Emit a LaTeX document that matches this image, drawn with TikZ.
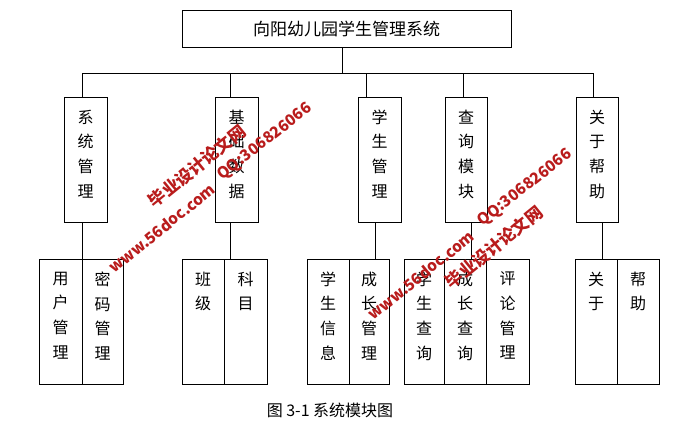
\documentclass[tikz,border=0pt]{standalone}
\usepackage{fontspec}
\setmainfont{Noto Sans CJK SC}
\definecolor{wmred}{RGB}{185,28,28}
\begin{document}
\begin{tikzpicture}[x=1pt,y=-1pt,
  box/.style={draw, line width=1pt, inner sep=0pt, minimum height=125pt},
  vtxt/.style={font=\fontsize{16}{24.7}\selectfont, align=center, inner sep=0pt, anchor=north, yshift=-13pt},
  link/.style={draw, line width=1pt},
  wmzh/.style={text=wmred, font=\bfseries\fontsize{17}{17}\selectfont, inner sep=0pt},
  wmen/.style={text=wmred, font=\bfseries\fontsize{15.5}{15.5}\selectfont, inner sep=0pt}]
\useasboundingbox (0,0) rectangle (697,437);
\fill[white] (0,0) rectangle (697,437);

% root
\node[draw, line width=1pt, minimum width=329pt, minimum height=37pt, inner sep=0pt,
      font=\fontsize{17}{17}\selectfont] (root) at (346.5,28.5) {向阳幼儿园学生管理系统};

% top-level boxes
\node[box, minimum width=43pt] (m1) at (85.5,159.5) {};
\node[box, minimum width=43pt] (m2) at (236.5,159.5) {};
\node[box, minimum width=43pt] (m3) at (379.5,159.5) {};
\node[box, minimum width=42pt] (m4) at (466,159.5) {};
\node[box, minimum width=42pt] (m5) at (597,159.5) {};
\node[vtxt] (m1t) at (m1.north) {系\\统\\管\\理};
\node[vtxt] (m2t) at (m2.north) {基\\础\\数\\据};
\node[vtxt] (m3t) at (m3.north) {学\\生\\管\\理};
\node[vtxt] (m4t) at (m4.north) {查\\询\\模\\块};
\node[vtxt] (m5t) at (m5.north) {关\\于\\帮\\助};

% bus
\coordinate (j0) at (342,73);
\coordinate (j1) at (82,73);
\coordinate (j2) at (230,73);
\coordinate (j3) at (366,73);
\coordinate (j4) at (463,73);
\coordinate (j5) at (593,73);
\draw[link] (root.south -| j0) -- (j0);
\draw[link] (j1) -- (j5);
\draw[link] (j1) -- (m1.north -| j1);
\draw[link] (j2) -- (m2.north -| j2);
\draw[link] (j3) -- (m3.north -| j3);
\draw[link] (j4) -- (m4.north -| j4);
\draw[link] (j5) -- (m5.north -| j5);

% bottom cells
\node[box, minimum width=43pt] (g1a) at (60.5,321.5) {};
\node[box, minimum width=41pt] (g1b) at (102.5,321.5) {};
\node[box, minimum width=42pt] (g2a) at (203,321.5) {};
\node[box, minimum width=43pt] (g2b) at (245.5,321.5) {};
\node[box, minimum width=42pt] (g3a) at (328,321.5) {};
\node[box, minimum width=40pt] (g3b) at (369,321.5) {};
\node[box, minimum width=40pt] (g4a) at (424,321.5) {};
\node[box, minimum width=42pt] (g4b) at (465,321.5) {};
\node[box, minimum width=43pt] (g4c) at (507.5,321.5) {};
\node[box, minimum width=42pt] (g5a) at (596,321.5) {};
\node[box, minimum width=42pt] (g5b) at (638,321.5) {};
\node[vtxt] (g1at) at (g1a.north) {用\\户\\管\\理};
\node[vtxt] (g1bt) at (g1b.north) {密\\码\\管\\理};
\node[vtxt] (g2at) at (g2a.north) {班\\级};
\node[vtxt] (g2bt) at (g2b.north) {科\\目};
\node[vtxt] (g3at) at (g3a.north) {学\\生\\信\\息};
\node[vtxt] (g3bt) at (g3b.north) {成\\长\\管\\理};
\node[vtxt] (g4at) at (g4a.north) {学\\生\\查\\询};
\node[vtxt] (g4bt) at (g4b.north) {成\\长\\查\\询};
\node[vtxt] (g4ct) at (g4c.north) {评\\论\\管\\理};
\node[vtxt] (g5at) at (g5a.north) {关\\于};
\node[vtxt] (g5bt) at (g5b.north) {帮\\助};

% links to bottom
\coordinate (k1) at (82,0);
\coordinate (k2) at (230,0);
\coordinate (k3) at (375,0);
\coordinate (k4) at (471,0);
\coordinate (k5) at (602,0);
\draw[link] (m1.south -| k1) -- (g1a.north -| k1);
\draw[link] (m2.south -| k2) -- (g2b.north -| k2);
\draw[link] (m3.south -| k3) -- (g3b.north -| k3);
\draw[link] (m4.south -| k4) -- (g4b.north -| k4);
\draw[link] (m5.south -| k5) -- (g5a.north -| k5);

% caption
\node[font=\fontsize{16}{16}\selectfont, inner sep=0pt] (cap) at (330,410) {图 3-1 系统模块图};

% watermarks
\node[wmzh, rotate=39] (w1) at (197,166) {毕业设计论文网};
\node[wmen, rotate=39] (w2) at (162,228) {www.56doc.com};
\node[wmen, rotate=38] (w3) at (265,142) {QQ:306826066};
\node[wmen, rotate=38] (w4) at (525,188) {QQ:306826066};
\node[wmzh, rotate=39] (w5) at (494,247) {毕业设计论文网};
\node[wmen, rotate=39] (w6) at (421,275) {www.56doc.com};
\end{tikzpicture}
\end{document}
